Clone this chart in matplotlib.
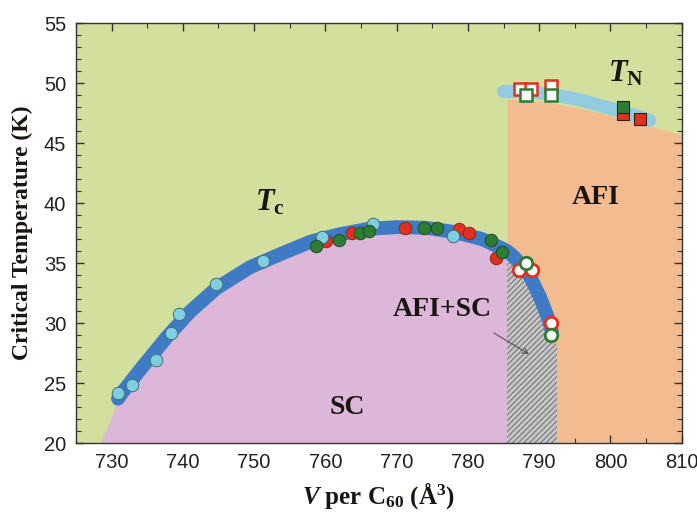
import numpy as np
import matplotlib
matplotlib.use("Agg")
import matplotlib.pyplot as plt

plt.rcParams['mathtext.fontset'] = 'custom'
plt.rcParams['mathtext.rm'] = 'Liberation Serif:bold'
plt.rcParams['mathtext.bf'] = 'Liberation Serif:bold'
plt.rcParams['mathtext.it'] = 'Liberation Serif:italic:bold'
plt.rcParams['hatch.linewidth'] = 0.7

# Tc dome boundary (V, T)
dome_V = [728.4, 729.8, 730.9, 731.6, 734.4, 737.7, 741.0, 744.7, 749.4, 754.1, 758, 762,
          766, 770, 774, 778, 782, 784.5, 785.5, 786.5, 788.7, 790.1, 791.2, 791.8, 792.5]
dome_T = [20.0, 21.9, 23.7, 24.3, 26.4, 28.8, 30.95, 32.9, 34.65, 35.85, 36.8, 37.4,
          37.85, 38.0, 37.95, 37.6, 37.0, 36.3, 36.0, 35.5, 33.9, 32.2, 30.5, 29.3, 28.0]

# TN boundary
tn_V = [785.0, 788, 791.5, 795.7, 800, 804, 805.5]
tn_T = [49.3, 49.3, 49.1, 48.6, 47.9, 47.2, 46.9]
afi_V = [785.5, 790, 795, 800, 805, 810]
afi_T = [48.65, 48.5, 48.0, 47.3, 46.5, 45.7]
afi_left = 785.5
hatch_right = 792.5

# Tc data
lb_V = [730.9, 732.8, 736.2, 738.3, 739.5, 744.6, 751.3, 759.5, 766.7, 777.9]
lb_T = [24.2, 24.8, 26.9, 29.2, 30.75, 33.25, 35.2, 37.2, 38.3, 37.25]
red_V = [760.1, 763.8, 771.2, 778.7, 780.1, 784.0]
red_T = [36.85, 37.5, 37.95, 37.8, 37.5, 35.45]
grn_V = [758.7, 761.9, 764.8, 766.1, 773.9, 775.7, 783.2, 784.8]
grn_T = [36.4, 36.9, 37.5, 37.7, 37.95, 37.9, 36.9, 35.95]
ored_V = [787.2, 789.0, 791.6]
ored_T = [34.4, 34.4, 30.0]
ogrn_V = [788.1, 791.6]
ogrn_T = [35.0, 29.0]

# TN data
osq_red_V = [787.3, 788.9, 791.6]
osq_red_T = [49.5, 49.5, 49.8]
osq_grn_V = [788.2, 791.6]
osq_grn_T = [49.0, 49.0]
sq_red_V = [801.7, 804.2]
sq_red_T = [47.4, 47.0]
sq_grn_V = [801.7]
sq_grn_T = [48.0]

GREEN_BG = '#d3df9c'
PINK = '#dcb7d9'
ORANGE = '#f3bc90'
BLUE = '#3f7bc4'
LBLUE = '#93cce1'
RED = '#e0301e'
DGREEN = '#2e7b34'
CYAN = '#80cfe0'

fig = plt.figure(figsize=(6.97, 5.14), dpi=100)
ax = fig.add_axes([0.109, 0.138, 0.869, 0.817])
ax.set_facecolor(GREEN_BG)
ax.set_xlim(725, 810)
ax.set_ylim(20, 55)

dV = np.array(dome_V)
dT = np.array(dome_T)

# AFI region
ax.fill_between(afi_V, 20, afi_T, color=ORANGE, lw=0, zorder=1)
# SC region
ax.fill_between(dV, 20, dT, where=dV <= afi_left, color=PINK, lw=0, zorder=2)
# AFI+SC hatched region
ax.fill_between(dV, 20, dT, where=(dV >= afi_left) & (dV <= hatch_right),
                facecolor='#c6c6c6', edgecolor='#6e6e6e', hatch='//////', lw=0, zorder=2)

# boundary bands
ax.plot(dV[2:-1], dT[2:-1], color=BLUE, lw=10, solid_capstyle='round',
        solid_joinstyle='round', zorder=3)
ax.plot(tn_V, tn_T, color=LBLUE, lw=9.5, solid_capstyle='round', zorder=3)

ms = 9
ax.plot(red_V, red_T, 'o', ms=ms, mfc=RED, mec='#8a2a1e', mew=0.7, zorder=4)
ax.plot(lb_V, lb_T, 'o', ms=ms, mfc=CYAN, mec='#3d6f7a', mew=0.7, zorder=5)
ax.plot(grn_V, grn_T, 'o', ms=ms, mfc=DGREEN, mec='#1f4d22', mew=0.7, zorder=6)
ax.plot(ored_V, ored_T, 'o', ms=ms, mfc='white', mec=RED, mew=2, zorder=6)
ax.plot(ogrn_V, ogrn_T, 'o', ms=ms, mfc='white', mec=DGREEN, mew=2, zorder=7)

ax.plot(osq_red_V, osq_red_T, 's', ms=ms, mfc='white', mec=RED, mew=1.8, zorder=6)
ax.plot(osq_grn_V, osq_grn_T, 's', ms=ms, mfc='white', mec=DGREEN, mew=1.8, zorder=7)
ax.plot(sq_red_V, sq_red_T, 's', ms=ms, mfc=RED, mec='#3a1a10', mew=0.8, zorder=6)
ax.plot(sq_grn_V, sq_grn_T, 's', ms=ms, mfc=DGREEN, mec='#1a2a1a', mew=0.8, zorder=7)

# labels
tfont = dict(family='Liberation Serif', weight='bold', color='#1a1410')
ax.text(750.1, 39.4, r'$T_{\mathrm{c}}$', fontsize=22, ha='left', va='baseline', zorder=8, **tfont)
ax.text(799.6, 50.1, r'$T_{\mathrm{N}}$', fontsize=22, ha='left', va='baseline', zorder=8, **tfont)
ax.text(797.9, 40.5, 'AFI', fontsize=20, ha='center', va='center', zorder=8, **tfont)
ax.text(763.1, 23.0, 'SC', fontsize=20, ha='center', va='center', zorder=8, **tfont)
ax.text(776.4, 31.1, 'AFI+SC', fontsize=20, ha='center', va='center', zorder=8, **tfont)
ax.annotate('', xy=(788.9, 27.3), xytext=(783.3, 29.3),
            arrowprops=dict(arrowstyle='->', color='#5a5060', lw=0.8), zorder=8)

ax.set_xlabel(r'$V$ per C$_{60}$ (Å$^{3}$)', fontsize=18, labelpad=6, **tfont)
ax.set_ylabel('Critical Temperature (K)', fontsize=17, labelpad=8, **tfont)

ax.set_xticks(np.arange(730, 811, 10))
ax.set_xticks(np.arange(725, 811, 5), minor=True)
ax.set_yticks(np.arange(20, 56, 5))
ax.set_yticks(np.arange(20, 56, 1), minor=True)
ax.tick_params(which='both', direction='in', top=True, right=True, color='#333333')
ax.tick_params(which='major', length=6, width=1, labelsize=14.5, pad=7)
ax.tick_params(which='minor', length=3.5, width=0.8)
for lab in ax.get_xticklabels() + ax.get_yticklabels():
    lab.set_family('Liberation Sans')
    lab.set_color('#222222')
for s in ax.spines.values():
    s.set_color('#333333')
    s.set_linewidth(1)

fig.savefig('out.png', dpi=100)
